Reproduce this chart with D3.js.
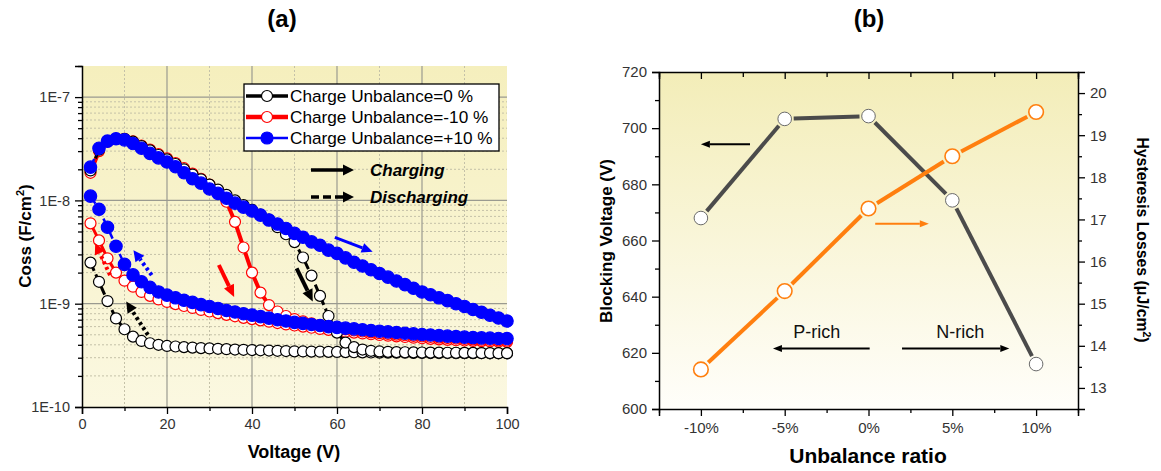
<!DOCTYPE html>
<html>
<head>
<meta charset="utf-8">
<script src="https://cdn.jsdelivr.net/npm/d3@7"></script>
<style>
body { margin: 0; background: #fff; }
svg { display: block; font-family: Arial, "Liberation Sans", sans-serif; }
</style>
</head>
<body>
<svg id="chart" width="1161" height="471"></svg>
<script>
// ---- panel (a) data: Coss vs voltage, read every 2 V ----
const voltage = [2,4,6,8,10,12,14,16,18,20,22,24,26,28,30,32,34,36,38,40,
  42,44,46,48,50,52,54,56,58,60,62,64,66,68,70,72,74,76,78,80,
  82,84,86,88,90,92,94,96,98,100];

const blackCharge = [1.95e-8,3.1e-8,3.75e-8,3.95e-8,3.95e-8,3.7e-8,3.35e-8,3.05e-8,2.75e-8,2.5e-8,
  2.25e-8,2.0e-8,1.78e-8,1.6e-8,1.42e-8,1.27e-8,1.13e-8,1.0e-8,9.0e-9,8.1e-9,
  7.3e-9,6.5e-9,5.5e-9,4.7e-9,3.95e-9,2.8e-9,1.87e-9,1.19e-9,7.6e-10,5.25e-10,
  4.2e-10,3.8e-10,3.6e-10,3.5e-10,3.45e-10,3.42e-10,3.4e-10,3.39e-10,3.38e-10,3.37e-10,
  3.36e-10,3.36e-10,3.35e-10,3.35e-10,3.34e-10,3.34e-10,3.33e-10,3.33e-10,3.32e-10,3.32e-10];
const blackDischarge = [2.5e-9,1.63e-9,1.06e-9,7.2e-10,5.66e-10,4.8e-10,4.36e-10,4.14e-10,4.0e-10,3.9e-10,
  3.85e-10,3.8e-10,3.76e-10,3.72e-10,3.69e-10,3.66e-10,3.63e-10,3.6e-10,3.58e-10,3.56e-10,
  3.54e-10,3.52e-10,3.5e-10,3.48e-10,3.46e-10,3.45e-10,3.44e-10,3.43e-10,3.42e-10,3.41e-10,
  3.4e-10,3.39e-10,3.38e-10,3.37e-10,3.36e-10,3.36e-10,3.35e-10,3.35e-10,3.34e-10,3.34e-10,
  3.33e-10,3.33e-10,3.33e-10,3.32e-10,3.32e-10,3.32e-10,3.32e-10,3.31e-10,3.31e-10,3.31e-10];

const redCharge = [1.85e-8,3.0e-8,3.7e-8,3.95e-8,3.95e-8,3.72e-8,3.4e-8,3.1e-8,2.8e-8,2.55e-8,
  2.3e-8,2.05e-8,1.82e-8,1.62e-8,1.42e-8,1.25e-8,9.7e-9,6.2e-9,3.5e-9,2.0e-9,
  1.28e-9,9.7e-10,8.4e-10,7.6e-10,7.1e-10,6.75e-10,6.45e-10,6.2e-10,6.0e-10,5.8e-10,
  5.65e-10,5.5e-10,5.38e-10,5.28e-10,5.18e-10,5.1e-10,5.02e-10,4.95e-10,4.88e-10,4.82e-10,
  4.76e-10,4.7e-10,4.65e-10,4.6e-10,4.56e-10,4.52e-10,4.48e-10,4.45e-10,4.42e-10,4.4e-10];
const redDischarge = [6.0e-9,4.1e-9,2.75e-9,2.0e-9,1.67e-9,1.46e-9,1.3e-9,1.19e-9,1.1e-9,1.04e-9,
  9.9e-10,9.5e-10,9.1e-10,8.7e-10,8.4e-10,8.1e-10,7.8e-10,7.55e-10,7.3e-10,7.1e-10,
  6.9e-10,6.7e-10,6.5e-10,6.3e-10,6.15e-10,6.0e-10,5.85e-10,5.7e-10,5.58e-10,5.46e-10,
  5.35e-10,5.25e-10,5.15e-10,5.06e-10,4.98e-10,4.9e-10,4.83e-10,4.76e-10,4.69e-10,4.63e-10,
  4.57e-10,4.52e-10,4.47e-10,4.43e-10,4.4e-10,4.37e-10,4.34e-10,4.31e-10,4.29e-10,4.27e-10];

const blueCharge = [2.1e-8,3.2e-8,3.75e-8,3.95e-8,3.85e-8,3.55e-8,3.2e-8,2.85e-8,2.58e-8,2.35e-8,
  2.12e-8,1.85e-8,1.62e-8,1.47e-8,1.29e-8,1.17e-8,1.05e-8,9.4e-9,8.6e-9,7.9e-9,
  7.2e-9,6.45e-9,5.9e-9,5.35e-9,4.8e-9,4.4e-9,3.97e-9,3.68e-9,3.3e-9,3.07e-9,
  2.78e-9,2.52e-9,2.32e-9,2.13e-9,1.96e-9,1.81e-9,1.66e-9,1.53e-9,1.41e-9,1.3e-9,
  1.22e-9,1.14e-9,1.07e-9,1.0e-9,9.4e-10,8.8e-10,8.26e-10,7.74e-10,7.26e-10,6.8e-10];
const blueDischarge = [1.1e-8,8.2e-9,5.5e-9,3.6e-9,2.4e-9,1.9e-9,1.63e-9,1.44e-9,1.3e-9,1.21e-9,
  1.14e-9,1.08e-9,1.03e-9,9.8e-10,9.4e-10,9.0e-10,8.6e-10,8.3e-10,8.0e-10,7.75e-10,
  7.5e-10,7.25e-10,7.0e-10,6.8e-10,6.6e-10,6.45e-10,6.3e-10,6.15e-10,6.0e-10,5.9e-10,
  5.8e-10,5.7e-10,5.6e-10,5.5e-10,5.42e-10,5.34e-10,5.26e-10,5.18e-10,5.1e-10,5.03e-10,
  4.97e-10,4.91e-10,4.85e-10,4.8e-10,4.75e-10,4.7e-10,4.67e-10,4.64e-10,4.61e-10,4.6e-10];

const legendNames = ['Charge Unbalance=0 %', 'Charge Unbalance=-10 %', 'Charge Unbalance=+10 %'];
const voltageTicks = [0, 20, 40, 60, 80, 100];
const cossTicks = [1e-10, 1e-9, 1e-8, 1e-7];

// ---- panel (b) data ----
const ratios = [-10, -5, 0, 5, 10];
const ratioLabels = ['-10%', '-5%', '0%', '5%', '10%'];
const blockingVoltage = [668, 703.3, 704.3, 674.3, 616];
const hysteresisLoss = [13.44, 15.3, 17.26, 18.5, 19.55];
const leftTicks = [600, 620, 640, 660, 680, 700, 720];
const rightTicks = [13, 14, 15, 16, 17, 18, 19, 20];

const svg = d3.select('#chart');
const defs = svg.append('defs');

function vGradient(id, top, bottom) {
    const g = defs.append('linearGradient').attr('id', id)
        .attr('x1', 0).attr('y1', 0).attr('x2', 0).attr('y2', 1);
    g.append('stop').attr('offset', '0%').attr('stop-color', top);
    g.append('stop').attr('offset', '100%').attr('stop-color', bottom);
}
vGradient('bgA', '#f5efbd', '#fbf8e1');
vGradient('bgB', '#f3edb8', '#fffefa');

// straight arrow with filled head
function arrow(g, x1, y1, x2, y2, color, width, dash, headLen, headW) {
    const a = Math.atan2(y2 - y1, x2 - x1);
    const bx = x2 - headLen * Math.cos(a), by = y2 - headLen * Math.sin(a);
    g.append('line').attr('x1', x1).attr('y1', y1).attr('x2', bx).attr('y2', by)
        .attr('stroke', color).attr('stroke-width', width)
        .attr('stroke-dasharray', dash || null);
    const px = -Math.sin(a) * headW / 2, py = Math.cos(a) * headW / 2;
    g.append('path')
        .attr('d', `M${x2},${y2}L${bx + px},${by + py}L${bx - px},${by - py}Z`)
        .attr('fill', color);
}

// ================= panel (a) =================
const xA = d3.scaleLinear().domain([0, 100]).range([82, 507]);
const yA = d3.scaleLog().domain([1e-10, 2e-7]).range([407, 66]);
const gA = svg.append('g');

gA.append('rect')
    .attr('x', xA(0)).attr('y', yA(2e-7))
    .attr('width', xA(100) - xA(0)).attr('height', yA(1e-10) - yA(2e-7))
    .attr('fill', 'url(#bgA)');

const minorY = [];
[-10, -9, -8].forEach(e => { for (let k = 2; k <= 9; k++) minorY.push(k * Math.pow(10, e)); });
minorY.push(2e-7);
const minorX = [10, 30, 50, 70, 90];

gA.selectAll('.gminy').data(minorY.filter(d => d < 2e-7)).enter().append('line')
    .attr('x1', xA(0)).attr('x2', xA(100)).attr('y1', d => yA(d)).attr('y2', d => yA(d))
    .attr('stroke', '#c4c1a8').attr('stroke-width', 1).attr('stroke-dasharray', '2,2');
gA.selectAll('.gminx').data(minorX).enter().append('line')
    .attr('y1', yA(2e-7)).attr('y2', yA(1e-10)).attr('x1', d => xA(d)).attr('x2', d => xA(d))
    .attr('stroke', '#c4c1a8').attr('stroke-width', 1).attr('stroke-dasharray', '2,2');
gA.selectAll('.gmajy').data([1e-9, 1e-8, 1e-7]).enter().append('line')
    .attr('x1', xA(0)).attr('x2', xA(100)).attr('y1', d => yA(d)).attr('y2', d => yA(d))
    .attr('stroke', '#9a9a90').attr('stroke-width', 1.2);
gA.selectAll('.gmajx').data([20, 40, 60, 80]).enter().append('line')
    .attr('y1', yA(2e-7)).attr('y2', yA(1e-10)).attr('x1', d => xA(d)).attr('x2', d => xA(d))
    .attr('stroke', '#9a9a90').attr('stroke-width', 1.2);

function drawSeries(vals, color, width, dash, filled, r) {
    const pts = voltage.map((v, i) => [xA(v), yA(vals[i])]);
    gA.append('path').attr('d', d3.line()(pts))
        .attr('fill', 'none').attr('stroke', color).attr('stroke-width', width)
        .attr('stroke-dasharray', dash || null);
    gA.append('g').selectAll('circle').data(pts).enter().append('circle')
        .attr('cx', d => d[0]).attr('cy', d => d[1]).attr('r', r)
        .attr('fill', filled ? color : '#fff')
        .attr('stroke', color).attr('stroke-width', 1.2);
}
drawSeries(redDischarge, '#ff0000', 3, null, false, 5.5);
drawSeries(redCharge, '#ff0000', 4, null, false, 5.5);
drawSeries(blackDischarge, '#000', 3, '9,4', false, 5.5);
drawSeries(blackCharge, '#000', 3, '9,4', false, 5.5);
drawSeries(blueDischarge, '#0000ff', 2.5, '9,4', true, 6.2);
drawSeries(blueCharge, '#0000ff', 2.5, '9,4', true, 6.2);

// direction arrows, placed in data units
arrow(gA, xA(32.2), yA(2.37e-9), xA(35.8), yA(1.16e-9), '#ff0000', 4, null, 12, 11);
arrow(gA, xA(50.5), yA(2.2e-9), xA(54.3), yA(1.05e-9), '#000', 4, null, 12, 11);
arrow(gA, xA(59.5), yA(4.38e-9), xA(68.4), yA(3.18e-9), '#0000ff', 3, null, 11, 10);
arrow(gA, xA(6.6), yA(1.89e-9), xA(3.1), yA(3.85e-9), '#ff0000', 4, '3,3', 11, 11);
arrow(gA, xA(16.4), yA(1.89e-9), xA(12.1), yA(3.3e-9), '#0000ff', 4, '3,3', 11, 11);
arrow(gA, xA(15.5), yA(4.99e-10), xA(10.4), yA(1.05e-9), '#000', 4, '3,3', 11, 11);

// axes
const axBottomA = gA.append('g').attr('transform', `translate(0,${yA(1e-10)})`)
    .call(d3.axisBottom(xA).tickValues(voltageTicks).tickSize(7).tickPadding(5));
gA.append('g').attr('transform', `translate(0,${yA(1e-10)})`)
    .call(d3.axisBottom(xA).tickValues(minorX).tickSize(4).tickFormat(''))
    .select('.domain').remove();
const axLeftA = gA.append('g').attr('transform', `translate(${xA(0)},0)`)
    .call(d3.axisLeft(yA).tickValues(cossTicks).tickSize(7).tickPadding(5)
        .tickFormat(d => '1E' + Math.round(Math.log10(d))));
gA.append('g').attr('transform', `translate(${xA(0)},0)`)
    .call(d3.axisLeft(yA).tickValues(minorY).tickSize(4).tickFormat(''))
    .select('.domain').remove();
[axBottomA, axLeftA].forEach(a => {
    a.select('.domain').attr('stroke-width', 1.5);
    a.selectAll('text').attr('font-size', 14.5).attr('fill', '#333')
        .attr('font-family', 'Arial, "Liberation Sans", sans-serif');
});
gA.selectAll('.tick line').attr('stroke-width', 1.3);

gA.append('text').attr('x', 294).attr('y', 458).attr('text-anchor', 'middle')
    .attr('font-size', 18).attr('font-weight', 'bold').text('Voltage (V)');
const cossTitle = gA.append('text').attr('transform', 'translate(31,236) rotate(-90)')
    .attr('text-anchor', 'middle').attr('font-size', 17).attr('font-weight', 'bold');
cossTitle.append('tspan').text('Coss (F/cm');
cossTitle.append('tspan').attr('font-size', 11).attr('dy', -7).text('2');
cossTitle.append('tspan').attr('dy', 7).text(')');
gA.append('text').attr('x', 282).attr('y', 27).attr('text-anchor', 'middle')
    .attr('font-size', 24).attr('font-weight', 'bold').text('(a)');

// legend
const leg = gA.append('g').attr('transform', 'translate(244,84)');
leg.append('rect').attr('width', 255).attr('height', 67)
    .attr('fill', '#fff').attr('stroke', '#000').attr('stroke-width', 1.3);
const legStyle = [
    { color: '#000', width: 3.5, filled: false },
    { color: '#ff0000', width: 4.5, filled: false },
    { color: '#0000ff', width: 2.5, filled: true }
];
legendNames.forEach((name, i) => {
    const cy = 12 + i * 21;
    const s = legStyle[i];
    leg.append('line').attr('x1', 2).attr('x2', 44).attr('y1', cy).attr('y2', cy)
        .attr('stroke', s.color).attr('stroke-width', s.width);
    leg.append('circle').attr('cx', 23).attr('cy', cy).attr('r', s.filled ? 6 : 5.5)
        .attr('fill', s.filled ? s.color : '#fff').attr('stroke', s.color).attr('stroke-width', 1.2);
    leg.append('text').attr('x', 46).attr('y', cy + 6).attr('font-size', 17.2).text(name);
});

const dirLeg = gA.append('g').attr('transform', 'translate(311,170)');
arrow(dirLeg, 0, 0, 43, 0, '#000', 3.5, null, 11, 11);
arrow(dirLeg, 0, 27, 43, 27, '#000', 3.5, '8,4', 11, 11);
dirLeg.append('text').attr('x', 59).attr('y', 6).attr('font-size', 17)
    .attr('font-weight', 'bold').attr('font-style', 'italic').text('Charging');
dirLeg.append('text').attr('x', 59).attr('y', 33).attr('font-size', 17)
    .attr('font-weight', 'bold').attr('font-style', 'italic').text('Discharging');

// ================= panel (b) =================
const xB = d3.scaleLinear().domain([-12.5, 12.5]).range([659, 1078]);
const yL = d3.scaleLinear().domain([600, 720]).range([409, 72]);
const yR = d3.scaleLinear().domain([12.5, 20.5]).range([409, 72]);
const gB = svg.append('g');

gB.append('rect').attr('x', xB(-12.5)).attr('y', yL(720))
    .attr('width', xB(12.5) - xB(-12.5)).attr('height', yL(600) - yL(720))
    .attr('fill', 'url(#bgB)');

// line segments stop short of the markers
function gapLine(pts, color, width, gap) {
    for (let i = 0; i < pts.length - 1; i++) {
        const [x1, y1] = pts[i], [x2, y2] = pts[i + 1];
        const len = Math.hypot(x2 - x1, y2 - y1);
        const ux = (x2 - x1) / len, uy = (y2 - y1) / len;
        gB.append('line')
            .attr('x1', x1 + ux * gap).attr('y1', y1 + uy * gap)
            .attr('x2', x2 - ux * gap).attr('y2', y2 - uy * gap)
            .attr('stroke', color).attr('stroke-width', width);
    }
}
const grayPts = ratios.map((r, i) => [xB(r), yL(blockingVoltage[i])]);
const orangePts = ratios.map((r, i) => [xB(r), yR(hysteresisLoss[i])]);
gapLine(grayPts, '#4b4b4b', 4, 9);
gapLine(orangePts, '#ff7f0f', 4, 10);
gB.selectAll('.mg').data(grayPts).enter().append('circle')
    .attr('cx', d => d[0]).attr('cy', d => d[1]).attr('r', 6.8)
    .attr('fill', '#fff').attr('stroke', '#6a6a6a').attr('stroke-width', 1);
gB.selectAll('.mo').data(orangePts).enter().append('circle')
    .attr('cx', d => d[0]).attr('cy', d => d[1]).attr('r', 7.3)
    .attr('fill', '#fff').attr('stroke', '#ff7f0f').attr('stroke-width', 1.6);

arrow(gB, xB(-7.07), yL(694.3), xB(-10), yL(694.3), '#000', 2, null, 9, 7);
arrow(gB, xB(0.4), yR(16.9), xB(3.6), yR(16.9), '#ff7f0f', 2, null, 9, 7);
arrow(gB, xB(0.07), yL(621.5), xB(-5.7), yL(621.5), '#000', 2, null, 9, 7);
arrow(gB, xB(2.0), yL(621.5), xB(8.4), yL(621.5), '#000', 2, null, 9, 7);
gB.append('text').attr('x', xB(-3.08)).attr('y', yL(621.5) - 11).attr('text-anchor', 'middle')
    .attr('font-size', 18).attr('fill', '#111').text('P-rich');
gB.append('text').attr('x', xB(5.47)).attr('y', yL(621.5) - 11).attr('text-anchor', 'middle')
    .attr('font-size', 18).attr('fill', '#111').text('N-rich');

const minorRatio = [-12.5, -7.5, -2.5, 2.5, 7.5, 12.5];
const axB = gB.append('g').attr('transform', `translate(0,${yL(600)})`)
    .call(d3.axisBottom(xB).tickValues(ratios).tickSize(7).tickPadding(6)
        .tickFormat((d, i) => ratioLabels[i]));
gB.append('g').attr('transform', `translate(0,${yL(600)})`)
    .call(d3.axisBottom(xB).tickValues(minorRatio).tickSize(4).tickFormat(''))
    .select('.domain').remove();
const axT = gB.append('g').attr('transform', `translate(0,${yL(720)})`)
    .call(d3.axisBottom(xB).tickValues(ratios).tickSize(7).tickFormat(''));
gB.append('g').attr('transform', `translate(0,${yL(720)})`)
    .call(d3.axisBottom(xB).tickValues(minorRatio).tickSize(5).tickFormat(''))
    .select('.domain').remove();
const axL = gB.append('g').attr('transform', `translate(${xB(-12.5)},0)`)
    .call(d3.axisLeft(yL).tickValues(leftTicks).tickSize(7).tickPadding(5));
gB.append('g').attr('transform', `translate(${xB(-12.5)},0)`)
    .call(d3.axisLeft(yL).tickValues(d3.range(610, 720, 20)).tickSize(4).tickFormat(''))
    .select('.domain').remove();
const axR = gB.append('g').attr('transform', `translate(${xB(12.5)},0)`)
    .call(d3.axisRight(yR).tickValues(rightTicks).tickSize(7).tickPadding(5));
gB.append('g').attr('transform', `translate(${xB(12.5)},0)`)
    .call(d3.axisRight(yR).tickValues(d3.range(13.5, 20.5, 1)).tickSize(4).tickFormat(''))
    .select('.domain').remove();
[axB, axT, axL, axR].forEach(a => {
    a.select('.domain').attr('stroke-width', 1.5);
    a.selectAll('text').attr('font-size', 15).attr('fill', '#333')
        .attr('font-family', 'Arial, "Liberation Sans", sans-serif');
});
gB.selectAll('.tick line').attr('stroke-width', 1.3);

gB.append('text').attr('x', 868).attr('y', 463).attr('text-anchor', 'middle')
    .attr('font-size', 21).attr('font-weight', 'bold').text('Unbalance ratio');
gB.append('text').attr('transform', 'translate(612,241) rotate(-90)').attr('text-anchor', 'middle')
    .attr('font-size', 17).attr('font-weight', 'bold').text('Blocking Voltage (V)');
const hTitle = gB.append('text').attr('transform', 'translate(1137,240) rotate(90)')
    .attr('text-anchor', 'middle').attr('font-size', 15.8).attr('font-weight', 'bold');
hTitle.append('tspan').text('Hysteresis Losses (\u03bcJ/cm');
hTitle.append('tspan').attr('font-size', 10.5).attr('dy', -6).text('2');
hTitle.append('tspan').attr('dy', 6).text(')');
gB.append('text').attr('x', 869).attr('y', 27).attr('text-anchor', 'middle')
    .attr('font-size', 24).attr('font-weight', 'bold').text('(b)');
</script>
</body>
</html>
